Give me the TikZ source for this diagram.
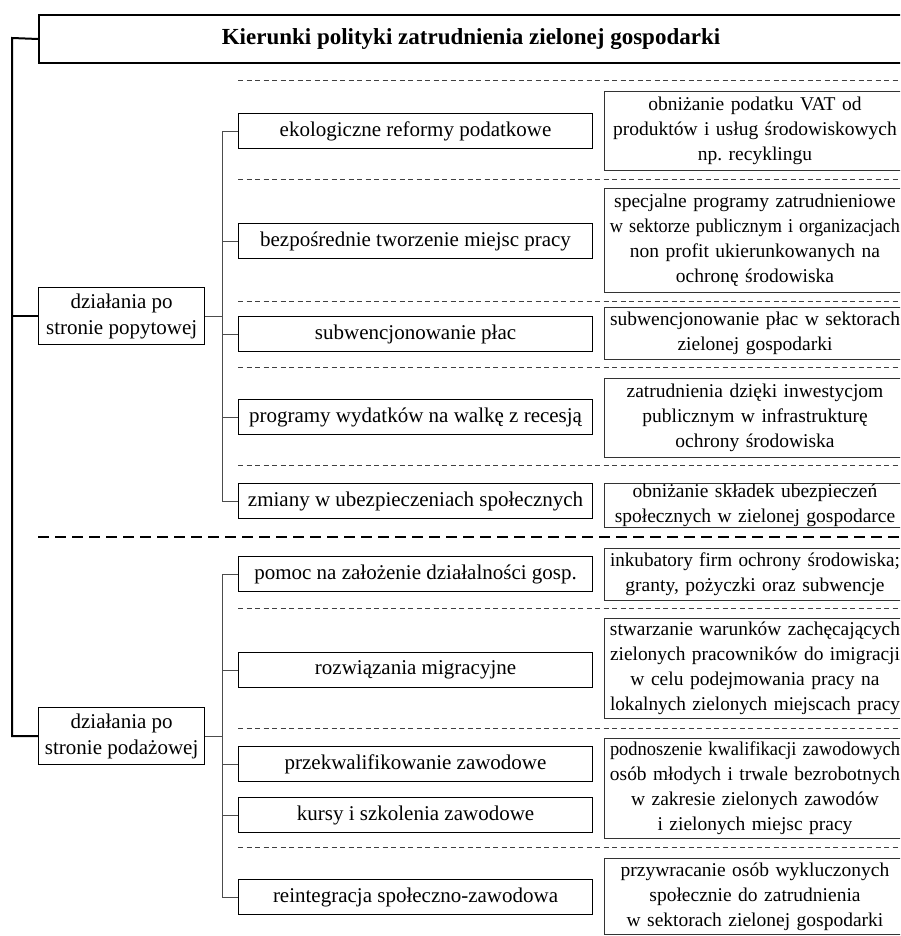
\documentclass[tikz,border=0pt]{standalone}
\usepackage{fontspec}
\usepackage{graphicx}
\setmainfont{Liberation Serif}
\newsavebox\rlbox
\newcommand{\rl}[1]{\sbox\rlbox{#1}\ifdim\wd\rlbox>290pt\makebox[\linewidth]{\resizebox{290pt}{\height}{\usebox\rlbox}}\else\makebox[\linewidth]{\usebox\rlbox}\fi}
\tikzset{
  mid/.style={draw=black, line width=1.1pt, minimum width=354pt, minimum height=35pt, inner sep=0pt, anchor=north west, font=\fontsize{21}{25}\selectfont},
  rbox/.style={draw=black!80, line width=1pt, inner sep=0pt, anchor=north west, align=center, minimum width=301pt, text width=297pt, font=\fontsize{19.5}{25}\selectfont},
  grp/.style={draw=black, line width=1.3pt, minimum width=166pt, minimum height=57pt, inner sep=0pt, anchor=north west, align=center, font=\fontsize{21}{26}\selectfont},
  thin/.style={draw=black!70, line width=0.9pt},
  sep/.style={draw=black!75, line width=0.8pt, dash pattern=on 5pt off 3.5pt},
  bigsep/.style={draw=black, line width=2pt, dash pattern=on 11pt off 6pt},
  trunk/.style={draw=black, line width=2pt},
}
\begin{document}
\begin{tikzpicture}[x=1pt,y=-1pt]
\clip (0,0) rectangle (900,936);
\fill[white] (0,0) rectangle (900,936);
% title
\node[draw=black, line width=2pt, minimum width=872pt, minimum height=48pt, anchor=north west, inner sep=0pt, font=\fontsize{23}{25}\selectfont\bfseries] (title) at (38,14) {\hspace{-8pt}Kierunki polityki zatrudnienia zielonej gospodarki};
% groups
\node[grp] (g1) at (38,287) {działania po\\stronie popytowej};
\node[grp] (g2) at (38,707) {działania po\\stronie podażowej};
% middle boxes
\node[mid] (m1) at (238,113) {ekologiczne reformy podatkowe};
\node[mid] (m2) at (238,223) {bezpośrednie tworzenie miejsc pracy};
\node[mid] (m3) at (238,316) {subwencjonowanie płac};
\node[mid] (m4) at (238,399) {programy wydatków na walkę z recesją};
\node[mid] (m5) at (238,483) {zmiany w ubezpieczeniach społecznych};
\node[mid] (m6) at (238,556) {pomoc na założenie działalności gosp.};
\node[mid] (m7) at (238,652) {rozwiązania migracyjne};
\node[mid] (m8) at (238,746) {przekwalifikowanie zawodowe};
\node[mid] (m9) at (238,797) {kursy i szkolenia zawodowe};
\node[mid] (m10) at (238,879) {reintegracja społeczno-zawodowa};
% right boxes
\node[rbox, minimum height=79pt] (r1) at (604,91) {obniżanie podatku VAT od\\\rl{produktów i usług środowiskowych}\\np.\ recyklingu};
\node[rbox, minimum height=104pt] (r2) at (604,188) {\rl{specjalne programy zatrudnieniowe}\\\rl{w sektorze publicznym i organizacjach}\\non profit ukierunkowanych na\\ochronę środowiska};
\node[rbox, minimum height=52pt] (r3) at (604,307) {\rl{subwencjonowanie płac w sektorach}\\zielonej gospodarki};
\node[rbox, minimum height=79pt] (r4) at (604,378) {zatrudnienia dzięki inwestycjom\\publicznym w infrastrukturę\\ochrony środowiska};
\node[rbox, minimum height=44pt] (r5) at (604,483) {obniżanie składek ubezpieczeń\\\rl{społecznych w zielonej gospodarce}};
\node[rbox, minimum height=52pt] (r6) at (604,548) {\rl{inkubatory firm ochrony środowiska;}\\granty, pożyczki oraz subwencje};
\node[rbox, minimum height=100pt] (r7) at (604,618) {\rl{stwarzanie warunków zachęcających}\\\rl{zielonych pracowników do imigracji}\\w celu podejmowania pracy na\\\rl{lokalnych zielonych miejscach pracy}};
\node[rbox, minimum height=100pt] (r8) at (604,738) {\rl{podnoszenie kwalifikacji zawodowych}\\\rl{osób młodych i trwale bezrobotnych}\\w zakresie zielonych zawodów\\i zielonych miejsc pracy};
\node[rbox, minimum height=76pt] (r9) at (604,858) {przywracanie osób wykluczonych\\społecznie do zatrudnienia\\\rl{w sektorach zielonej gospodarki}};
% separators
\foreach \y in {80,179,301,367,465,608,728,847} \draw[sep] (238,\y) -- (910,\y);
\draw[bigsep] (38,537) -- (910,537);
% left trunk
\coordinate (tl) at (12,38);
\draw[trunk] (title.west) -- (tl) -- (tl |- g2.west) -- (g2.west);
\draw[trunk] (tl |- g1.west) -- (g1.west);
% branches
\coordinate (b1) at (222,0);
\draw[thin] (g1.east) -- (b1 |- g1.east);
\draw[thin] (m1.west) -- (b1 |- m1.west) -- (b1 |- m5.west) -- (m5.west);
\foreach \m in {m2,m3,m4} \draw[thin] (b1 |- \m.west) -- (\m.west);
\draw[thin] (g2.east) -- (b1 |- g2.east);
\draw[thin] (m6.west) -- (b1 |- m6.west) -- (b1 |- m10.west) -- (m10.west);
\foreach \m in {m7,m8,m9} \draw[thin] (b1 |- \m.west) -- (\m.west);
\end{tikzpicture}
\end{document}
